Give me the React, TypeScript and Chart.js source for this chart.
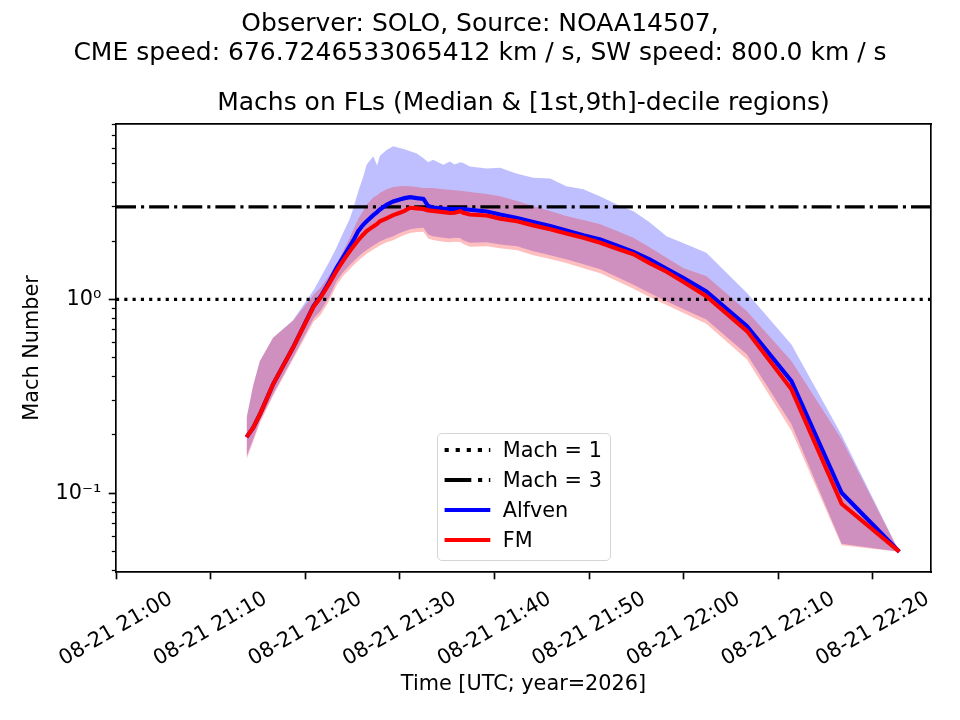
import React, { useEffect, useRef } from "react";
import { Chart, registerables } from "chart.js";

Chart.register(...registerables);

const FONT = "'DejaVu Sans', 'Liberation Sans', sans-serif";
Chart.defaults.font.family = FONT;
Chart.defaults.color = "#000";

// ---- data (x = minutes after 2026-08-21 21:00 UTC) ----
const times = [
  13.8, 14.5, 15.2, 16.6, 18.7, 20.9, 21.6, 22.5, 23.3, 24.0, 24.7, 25.1, 25.6, 26.1, 26.5, 27.2, 27.6,
  27.9, 28.6, 29.3, 30.0, 30.5, 31.1, 31.8, 32.5, 33.0, 33.5, 34.6, 35.3, 35.8, 36.4, 36.7, 37.4, 39.2,
  40.6, 42.4, 44.1, 45.9, 47.6, 49.4, 51.2, 52.9, 54.7, 56.4, 58.2, 60.0, 62.4, 66.7, 71.4, 76.7, 82.8,
];

const alfvenMedian = [
  0.195, 0.218, 0.255, 0.365, 0.563, 0.93, 1.03, 1.22, 1.45, 1.65, 1.88, 2.02, 2.25, 2.42, 2.53, 2.72, 2.82,
  2.91, 3.08, 3.2, 3.28, 3.33, 3.37, 3.33, 3.3, 3.03, 2.98, 2.94, 2.93, 2.92, 2.93, 2.92, 2.9, 2.84,
  2.74, 2.63, 2.51, 2.39, 2.27, 2.14, 2.04, 1.9, 1.76, 1.61, 1.44, 1.29, 1.1, 0.728, 0.379, 0.1007, 0.05,
];

const fmMedian = [
  0.195, 0.218, 0.255, 0.365, 0.563, 0.92, 1.02, 1.2, 1.4, 1.58, 1.77, 1.88, 2.02, 2.15, 2.25, 2.38, 2.45,
  2.53, 2.62, 2.72, 2.8, 2.86, 2.97, 2.95, 2.93, 2.88, 2.86, 2.82, 2.79, 2.8, 2.85, 2.8, 2.74, 2.71,
  2.61, 2.53, 2.41, 2.3, 2.19, 2.08, 1.96, 1.83, 1.71, 1.54, 1.39, 1.23, 1.04, 0.687, 0.344, 0.0884, 0.05,
];

const alfvenDecile9 = [
  0.245, 0.36, 0.48, 0.634, 0.78, 1.12, 1.29, 1.55, 1.85, 2.2, 2.6, 2.97, 3.6, 4.24, 4.97, 5.48, 4.9,
  5.5, 5.9, 6.17, 6.04, 5.95, 5.81, 5.65, 5.35, 5.1, 5.25, 4.95, 5.15, 4.96, 5.1, 5.06, 4.85, 4.73,
  4.77, 4.45, 4.24, 4.2, 3.84, 3.7, 3.4, 3.1, 2.85, 2.5, 2.12, 1.95, 1.74, 1.08, 0.586, 0.2, 0.05,
];

const alfvenDecile1 = [
  0.155, 0.19, 0.236, 0.324, 0.5, 0.8, 0.87, 1.02, 1.24, 1.38, 1.5, 1.57, 1.66, 1.74, 1.8, 1.9, 1.95,
  1.99, 2.06, 2.12, 2.2, 2.25, 2.3, 2.33, 2.34, 2.16, 2.12, 2.08, 2.06, 2.08, 2.07, 2.02, 1.96, 1.97,
  1.92, 1.88, 1.77, 1.69, 1.61, 1.52, 1.43, 1.31, 1.19, 1.08, 0.98, 0.89, 0.788, 0.52, 0.227, 0.055, 0.05,
];

const fmDecile9 = [
  0.245, 0.36, 0.48, 0.634, 0.773, 1.06, 1.15, 1.32, 1.51, 1.78, 2.08, 2.3, 2.6, 2.85, 3.09, 3.35, 3.45,
  3.55, 3.7, 3.8, 3.84, 3.85, 3.84, 3.8, 3.76, 3.76, 3.75, 3.7, 3.68, 3.66, 3.64, 3.62, 3.58, 3.5,
  3.41, 3.22, 3.03, 2.86, 2.69, 2.57, 2.44, 2.26, 2.08, 1.86, 1.64, 1.45, 1.32, 0.87, 0.481, 0.19, 0.05,
];

const fmDecile1 = [
  0.15, 0.185, 0.23, 0.318, 0.49, 0.77, 0.83, 0.975, 1.18, 1.32, 1.43, 1.5, 1.585, 1.66, 1.72, 1.81, 1.86,
  1.9, 1.97, 2.02, 2.1, 2.15, 2.2, 2.225, 2.235, 2.06, 2.025, 1.985, 1.97, 1.985, 1.975, 1.93, 1.87, 1.88,
  1.835, 1.795, 1.69, 1.615, 1.54, 1.45, 1.365, 1.25, 1.135, 1.03, 0.935, 0.85, 0.75, 0.49, 0.21, 0.054, 0.05,
];

const machLevels = [1, 3];

const xTickValues = [0, 10, 20, 30, 40, 50, 60, 70, 80];
const xTickLabels = [
  "08-21 21:00", "08-21 21:10", "08-21 21:20", "08-21 21:30", "08-21 21:40",
  "08-21 21:50", "08-21 22:00", "08-21 22:10", "08-21 22:20",
];
const yMajorTicks = [0.1, 1];
const yMajorLabels = ["10\u207B\u00B9", "10\u2070"];
const yMinorTicks = [
  0.04, 0.05, 0.06, 0.07, 0.08, 0.09, 0.2, 0.3, 0.4, 0.5, 0.6, 0.7, 0.8, 0.9, 2, 3, 4, 5, 6, 7, 8,
];

const X_MIN = 0;
const X_MAX = 86.15;
const Y_MIN = 0.0393;
const Y_MAX = 8.03;

const suptitle = [
  "Observer: SOLO, Source: NOAA14507,",
  "CME speed: 676.7246533065412 km / s, SW speed: 800.0 km / s",
];
const axTitle = "Machs on FLs (Median & [1st,9th]-decile regions)";
const xLabel = "Time [UTC; year=2026]";
const yLabel = "Mach Number";

const legendEntries = [
  { label: "Mach = 1", color: "#000000", dash: "4.17 6.9" },
  { label: "Mach = 3", color: "#000000", dash: "26.7 6.7 4.17 6.7" },
  { label: "Alfven", color: "#0000ff", dash: "" },
  { label: "FM", color: "#ff0000", dash: "" },
];

const pts = (ys: number[]) => times.map((t, i) => ({ x: t, y: ys[i] }));
const hline = (v: number) => [
  { x: X_MIN, y: v },
  { x: X_MAX, y: v },
];

const TICK_FONT = { size: 20.8, family: FONT };

export default function App() {
  const ref = useRef<HTMLCanvasElement | null>(null);

  useEffect(() => {
    document.body.style.margin = "0";
    const canvas = ref.current;
    if (!canvas) return;
    const base = { pointRadius: 0, pointHoverRadius: 0, tension: 0, xAxisID: "x", yAxisID: "y" };
    const chart = new Chart(canvas, {
      type: "line",
      data: {
        datasets: [
          { ...base, label: "FM", data: pts(fmMedian), borderColor: "#ff0000", borderWidth: 4.17, fill: false, order: 0 },
          { ...base, label: "Alfven", data: pts(alfvenMedian), borderColor: "#0000ff", borderWidth: 4.17, fill: false, order: 1 },
          { ...base, label: "Mach = 1", data: hline(machLevels[0]), borderColor: "#000", borderWidth: 3.125, borderDash: [3.125, 5.16], fill: false, order: 2 },
          { ...base, label: "Mach = 3", data: hline(machLevels[1]), borderColor: "#000", borderWidth: 3.125, borderDash: [20, 5, 3.125, 5], fill: false, order: 2 },
          { ...base, label: "FM 9th decile", data: pts(fmDecile9), borderWidth: 0, borderColor: "rgba(0,0,0,0)", backgroundColor: "rgba(255,0,0,0.25)", fill: "+1", order: 3 },
          { ...base, label: "FM 1st decile", data: pts(fmDecile1), borderWidth: 0, borderColor: "rgba(0,0,0,0)", fill: false, order: 3 },
          { ...base, label: "Alfven 9th decile", data: pts(alfvenDecile9), borderWidth: 0, borderColor: "rgba(0,0,0,0)", backgroundColor: "rgba(0,0,255,0.25)", fill: "+1", order: 4 },
          { ...base, label: "Alfven 1st decile", data: pts(alfvenDecile1), borderWidth: 0, borderColor: "rgba(0,0,0,0)", fill: false, order: 4 },
        ],
      },
      options: {
        responsive: false,
        maintainAspectRatio: false,
        animation: false,
        events: [],
        layout: { padding: 0 },
        plugins: {
          legend: { display: false },
          tooltip: { enabled: false },
          title: {
            display: true,
            text: suptitle,
            color: "#000",
            font: { size: 25, weight: "normal", lineHeight: 1.16, family: FONT },
            padding: { top: 10, bottom: 0 },
          },
        },
        scales: {
          x: {
            type: "linear",
            position: "bottom",
            min: X_MIN,
            max: X_MAX,
            afterBuildTicks: (s: any) => {
              s.ticks = xTickValues.map((v) => ({ value: v }));
            },
            afterFit: (s: any) => {
              s.height = 148;
              s.paddingLeft = 0;
              s.paddingRight = 0;
            },
            ticks: {
              autoSkip: false,
              minRotation: 30,
              maxRotation: 30,
              labelOffset: 55,
              padding: 7.3,
              color: "#000",
              font: TICK_FONT,
              callback: (v: any) => xTickLabels[xTickValues.indexOf(Number(v))] ?? "",
            },
            grid: { display: true, drawOnChartArea: false, drawTicks: true, tickLength: 7.3, tickWidth: 1.67, tickColor: "#000" },
            border: { display: true, color: "#000", width: 1.67 },
            title: { display: true, text: xLabel, color: "#000", font: TICK_FONT, padding: { top: 0, bottom: 22.5 } },
          },
          xTop: {
            type: "linear",
            position: "top",
            min: 0,
            max: 1,
            afterFit: (s: any) => {
              s.height = 56;
              s.paddingLeft = 0;
              s.paddingRight = 0;
            },
            ticks: { display: false },
            grid: { display: false, drawTicks: false },
            border: { display: true, color: "#000", width: 1.67 },
            title: {
              display: true,
              text: axTitle,
              color: "#000",
              font: { size: 25, lineHeight: 1.16, family: FONT },
              padding: { top: 20.5, bottom: 0 },
            },
          },
          y: {
            type: "logarithmic",
            position: "left",
            weight: 1,
            min: Y_MIN,
            max: Y_MAX,
            bounds: "data",
            afterBuildTicks: (s: any) => {
              s.ticks = yMajorTicks.map((v) => ({ value: v, major: true }));
            },
            afterFit: (s: any) => {
              s.width = 116;
              s.paddingTop = 0;
              s.paddingBottom = 0;
            },
            ticks: {
              autoSkip: false,
              padding: 7.3,
              color: "#000",
              font: TICK_FONT,
              major: { enabled: false },
              callback: (v: any) => yMajorLabels[yMajorTicks.indexOf(Number(v))] ?? "",
            },
            grid: { display: true, drawOnChartArea: false, drawTicks: true, tickLength: 7.3, tickWidth: 1.67, tickColor: "#000" },
            border: { display: true, color: "#000", width: 1.67 },
            title: { display: true, text: yLabel, color: "#000", font: TICK_FONT, padding: { top: 20.5, bottom: 0 } },
          },
          yMinor: {
            type: "logarithmic",
            position: "left",
            weight: 0,
            min: Y_MIN,
            max: Y_MAX,
            bounds: "data",
            afterBuildTicks: (s: any) => {
              s.ticks = yMinorTicks.map((v) => ({ value: v }));
            },
            afterFit: (s: any) => {
              s.width = 0;
              s.paddingTop = 0;
              s.paddingBottom = 0;
            },
            ticks: { display: false, autoSkip: false },
            grid: { display: true, drawOnChartArea: false, drawTicks: true, tickLength: 4.2, tickWidth: 1.25, tickColor: "#000" },
            border: { display: false },
          },
          yR: {
            type: "linear",
            position: "right",
            min: 0,
            max: 1,
            afterFit: (s: any) => {
              s.width = 29;
              s.paddingTop = 0;
              s.paddingBottom = 0;
            },
            ticks: { display: false },
            grid: { display: false, drawTicks: false },
            border: { display: true, color: "#000", width: 1.67 },
          },
        },
      } as any,
    });
    return () => chart.destroy();
  }, []);

  const legendTop = 432.7;
  const legendLeft = 436.7;
  return (
    <div style={{ position: "relative", width: 960, height: 720, background: "#fff" }}>
      <canvas ref={ref} width={960} height={720} style={{ display: "block" }} />
      <div
        style={{
          position: "absolute",
          left: legendLeft,
          top: legendTop,
          width: 174,
          height: 128,
          boxSizing: "border-box",
          border: "1.6px solid #d5d5d5",
          borderRadius: 5,
          background: "rgba(255,255,255,0.8)",
          fontFamily: FONT,
          fontSize: 20.8,
          color: "#000",
        }}
      >
        {legendEntries.map((e, i) => {
          const cy = 18 + i * 30;
          return (
            <React.Fragment key={e.label}>
              <svg
                width={60}
                height={30}
                style={{ position: "absolute", left: 0, top: cy - 15 - 1.6 }}
              >
                <line
                  x1={6.6}
                  y1={15}
                  x2={52.3}
                  y2={15}
                  stroke={e.color}
                  strokeWidth={4.17}
                  strokeDasharray={e.dash || undefined}
                />
              </svg>
              <span
                style={{
                  position: "absolute",
                  left: 65,
                  top: cy - 15 - 1.6,
                  height: 30,
                  lineHeight: "30px",
                  whiteSpace: "nowrap",
                }}
              >
                {e.label}
              </span>
            </React.Fragment>
          );
        })}
      </div>
    </div>
  );
}
